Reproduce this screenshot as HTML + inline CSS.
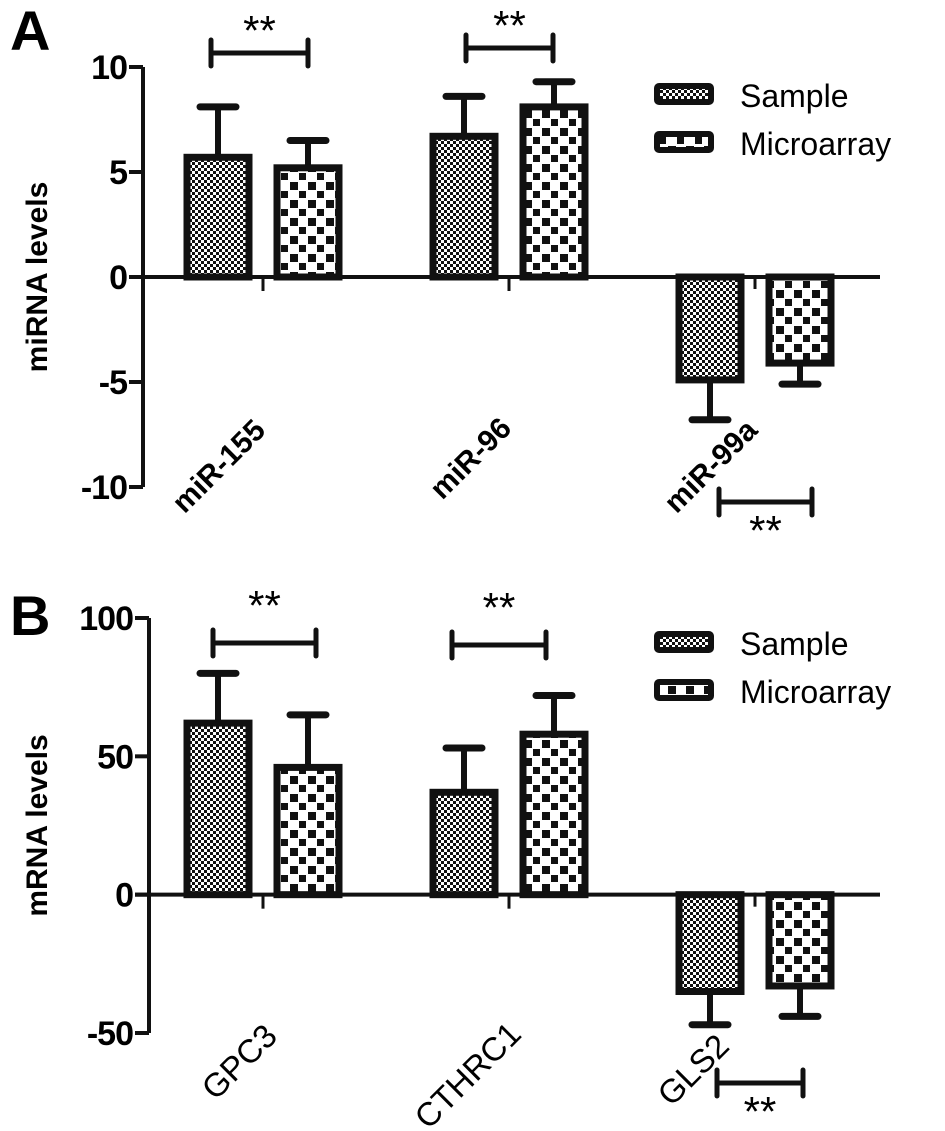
<!DOCTYPE html>
<html><head><meta charset="utf-8"><style>
html,body{margin:0;padding:0;background:#fff;}
svg{display:block;font-family:"Liberation Sans",Arial,sans-serif;}
</style></head><body>
<svg id="chart" width="945" height="1131" viewBox="0 0 945 1131">
<defs>
<pattern id="pS" width="6" height="6" patternUnits="userSpaceOnUse"><rect width="6" height="6" fill="#fff"/><rect width="3" height="3" fill="#111"/><rect x="3" y="3" width="3" height="3" fill="#111"/></pattern>
<pattern id="pM" width="18" height="18" patternUnits="userSpaceOnUse"><rect width="18" height="18" fill="#fff"/><rect x="2" y="2" width="8" height="8" fill="#111"/><rect x="11" y="11" width="8" height="8" fill="#111"/></pattern>
</defs>
</svg>
<script>
const catsA=["miR-155","miR-96","miR-99a"];
const sampleA=[5.7,6.7,-4.9];
const sampleErrA=[2.4,1.9,1.9];
const microA=[5.2,8.1,-4.1];
const microErrA=[1.3,1.2,1.0];
const ticksA=[10,5,0,-5,-10];
const catsB=["GPC3","CTHRC1","GLS2"];
const sampleB=[62,37,-35];
const sampleErrB=[18,16,12];
const microB=[46,58,-33];
const microErrB=[19,14,11];
const ticksB=[100,50,0,-50];
const legendLabels=["Sample","Microarray"];

const NS="http://www.w3.org/2000/svg";
const svg=document.getElementById('chart');
function mk(tag,attrs,parent){const e=document.createElementNS(NS,tag);for(const k in attrs)e.setAttribute(k,attrs[k]);(parent||svg).appendChild(e);return e;}

function panel(cfg){
  const g=mk('g',{});
  
  
  const y=v=>cfg.y0+(v-cfg.vmax)*(cfg.y1-cfg.y0)/(cfg.vmin-cfg.vmax);
  const axX=cfg.axX;
  const L=mk('text',{x:10,y:cfg.letterY,'font-size':56,'font-weight':'bold'},g);L.textContent=cfg.letter;
  
  
  const ya=mk('line',{x1:axX,y1:y(cfg.vmax),x2:axX,y2:y(cfg.vmin),stroke:'#111','stroke-width':4},g);
  
  
  cfg.ticks.forEach(t=>{
    mk('line',{x1:axX-14,y1:y(t),x2:axX,y2:y(t),stroke:'#111','stroke-width':4},g);
    const tx=mk('text',{x:axX-16,y:y(t)+12,'font-size':34,'font-weight':'bold','text-anchor':'end','letter-spacing':-1},g);tx.textContent=t;
    
    
  });
  const yt=mk('text',{transform:`translate(47,${(y(cfg.vmax)+y(cfg.vmin))/2}) rotate(-90)`,'font-size':30,'font-weight':'bold','text-anchor':'middle'},g);
  yt.textContent=cfg.ytitle;
  
  
  const z=mk('line',{x1:axX-14,y1:y(0),x2:880,y2:y(0),stroke:'#111','stroke-width':4},g);
  
  
  const bw=62, centers=[263,509,755];
  cfg.cats.forEach((c,i)=>{
    const cx=centers[i];
    const neg=cfg.s[i]<0;
    mk('line',{x1:cx,y1:neg?y(0)-2:y(0),x2:cx,y2:neg?y(0)+12:y(0)+14,stroke:'#111','stroke-width':3},g);
    [[cfg.s[i],cfg.se[i],'url(#pS)',cx-76,'sample'],[cfg.m[i],cfg.me[i],'url(#pM)',cx+14,'microarray']].forEach(([v,e,f,x0,nm])=>{
      const top=Math.min(y(v),y(0)),h=Math.abs(y(v)-y(0));
      const ev=v+(v<0?-e:e);
      mk('line',{x1:x0+bw/2,y1:y(v),x2:x0+bw/2,y2:y(ev),stroke:'#111','stroke-width':6},g);
      mk('line',{x1:x0+bw/2-18,y1:y(ev),x2:x0+bw/2+18,y2:y(ev),stroke:'#111','stroke-width':7,'stroke-linecap':'round'},g);
      const r=mk('rect',{x:x0,y:top,width:bw,height:h,fill:f,stroke:'#111','stroke-width':7},g);
      
      
    });
    const lt=mk('text',{transform:`translate(${cx+cfg.labDX[i]},${cfg.labY[i]}) rotate(-45)`,'font-size':cfg.labSize,'font-weight':cfg.labW,'text-anchor':'end'},g);
    lt.textContent=c;
    
    
  });
  cfg.br.forEach(b=>{
    const bg=mk('g',{},g);
    
    
    mk('line',{x1:b[0],y1:b[2],x2:b[1],y2:b[2],stroke:'#111','stroke-width':5},bg);
    mk('line',{x1:b[0],y1:b[2]-13,x2:b[0],y2:b[2]+13,stroke:'#111','stroke-width':5,'stroke-linecap':'round'},bg);
    mk('line',{x1:b[1],y1:b[2]-13,x2:b[1],y2:b[2]+13,stroke:'#111','stroke-width':5,'stroke-linecap':'round'},bg);
    const st=mk('text',{x:(b[0]+b[1])/2,y:b[3],'font-size':42,'text-anchor':'middle'},bg);st.textContent='**';
  });
  legendLabels.forEach((lab,i)=>{
    const ly=cfg.legY+i*48;
    const lg=mk('g',{},g);
    
    
    mk('rect',{x:657,y:ly,width:54,height:16,fill:i?'url(#pM)':'url(#pS)',stroke:'#111','stroke-width':6,rx:2},lg);
    const t=mk('text',{x:740,y:ly+21,'font-size':32},lg);t.textContent=lab;
  });
}
panel({name:'panel-a-mirna',letter:'A',letterY:50,y0:67,y1:487,vmax:10,vmin:-10,axX:143,ticks:ticksA,ytitle:'miRNA levels',
  cats:catsA,s:sampleA,se:sampleErrA,m:microA,me:microErrA,labY:[432,430,432],labDX:[4,4,4],labSize:30,labW:'bold',
  br:[[211,308,53,45],[466,553,48,40],[719,812,502,545]],legY:86});
panel({name:'panel-b-mrna',letter:'B',letterY:635,y0:618,y1:1033,vmax:100,vmin:-50,axX:149,ticks:ticksB,ytitle:'mRNA levels',
  cats:catsB,s:sampleB,se:sampleErrB,m:microB,me:microErrB,labY:[1038,1036,1048],labDX:[16,14,-24],labSize:33,labW:'normal',
  br:[[213,316,643,620],[452,546,645,622],[717,803,1083,1126]],legY:634});
</script>
</body></html>
